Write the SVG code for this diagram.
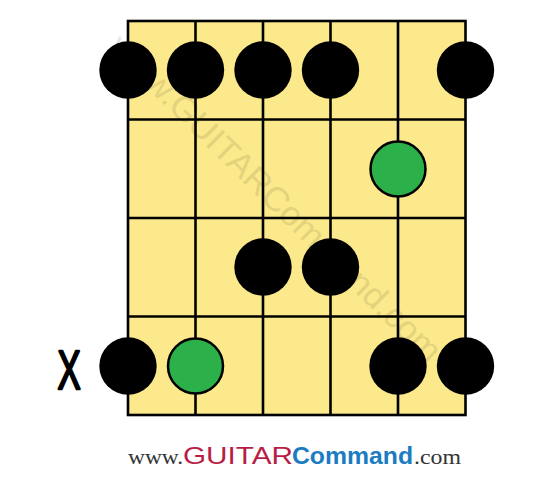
<svg xmlns="http://www.w3.org/2000/svg" width="550" height="477" viewBox="0 0 550 477">
<style>
.board{fill:#fbe98b;stroke:#000;stroke-width:2.6}
.ln{stroke:#000;stroke-width:2.6;fill:none}
.blk{fill:#000}
.grn{fill:#2bb04a;stroke:#000;stroke-width:2.5}
.wm{font-family:"Liberation Sans",Arial,sans-serif;font-size:34px;fill:#000;opacity:0.09}
.ser{font-family:"Liberation Serif","Times New Roman",serif;font-size:22px;fill:#333}
.gt{font-family:"Liberation Sans",Arial,sans-serif;font-size:24px;fill:#b81e45}
.cm{font-family:"Liberation Sans",Arial,sans-serif;font-size:24px;font-weight:bold;fill:#1b7cc2}
</style>
<rect width="550" height="477" fill="#fff"/>
<g id="fretboard">
<rect class="board" x="128" y="21" width="337.5" height="394"/>
<g class="ln">
<line x1="195.5" y1="21" x2="195.5" y2="415"/>
<line x1="263" y1="21" x2="263" y2="415"/>
<line x1="330.5" y1="21" x2="330.5" y2="415"/>
<line x1="398" y1="21" x2="398" y2="415"/>
<line x1="128" y1="119.5" x2="465.5" y2="119.5"/>
<line x1="128" y1="218" x2="465.5" y2="218"/>
<line x1="128" y1="316.5" x2="465.5" y2="316.5"/>
</g>
</g>
<g id="connectors"></g>
<g id="dots">
<circle id="d1" class="blk" cx="128" cy="70" r="28.7"/>
<circle id="d2" class="blk" cx="195.5" cy="70" r="28.7"/>
<circle id="d3" class="blk" cx="263" cy="70" r="28.7"/>
<circle id="d4" class="blk" cx="330.5" cy="70" r="28.7"/>
<circle id="d5" class="blk" cx="465.5" cy="70" r="28.7"/>
<circle id="d6" class="grn" cx="398" cy="169" r="27.5"/>
<circle id="d7" class="blk" cx="263" cy="267" r="28.7"/>
<circle id="d8" class="blk" cx="330.5" cy="267" r="28.7"/>
<circle id="d9" class="blk" cx="128" cy="366" r="28.7"/>
<circle id="d10" class="grn" cx="195.5" cy="366" r="27.5"/>
<circle id="d11" class="blk" cx="398" cy="366" r="28.7"/>
<circle id="d12" class="blk" cx="465.5" cy="366" r="28.7"/>
</g>
<g id="mute">
<text transform="translate(69,389) scale(0.62,1)" text-anchor="middle" font-family="Liberation Sans,Arial,sans-serif" font-size="56" fill="#000" stroke="#000" stroke-width="2.5" stroke-linejoin="round">X</text>
</g>
<g id="watermark">
<text class="wm" transform="translate(276,198) rotate(44.5)" x="0" y="12" text-anchor="middle" textLength="450" lengthAdjust="spacingAndGlyphs">www.GUITARCommand.com</text>
</g>
<g id="footer">
<text y="464"><tspan class="ser" x="128" textLength="55" lengthAdjust="spacingAndGlyphs">www.</tspan><tspan class="gt" x="183" textLength="110" lengthAdjust="spacingAndGlyphs">GUITAR</tspan><tspan class="cm" x="292" textLength="121" lengthAdjust="spacingAndGlyphs">Command</tspan><tspan class="ser" x="414" textLength="47" lengthAdjust="spacingAndGlyphs">.com</tspan></text>
</g>
</svg>
